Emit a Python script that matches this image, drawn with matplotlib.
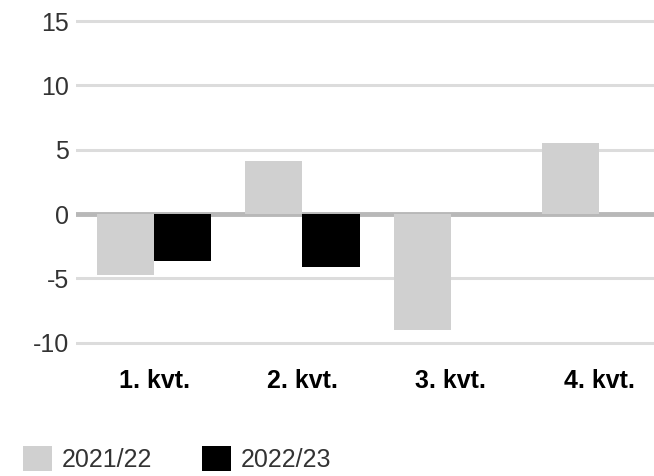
import numpy as np
import matplotlib
matplotlib.use("Agg")
import matplotlib.pyplot as plt
from matplotlib.patches import Patch

plt.rcParams['font.family'] = ['Liberation Sans', 'DejaVu Sans']

quarters = ['1. kvt.', '2. kvt.', '3. kvt.', '4. kvt.']
series_names = ['2021/22', '2022/23']
values_2122 = [-4.75, 4.1, -9.0, 5.5]
values_2223 = [-3.65, -4.1, np.nan, np.nan]
yticks = [-10, -5, 0, 5, 10, 15]

gray = '#d0d0d0'
black = '#000000'

fig = plt.figure(figsize=(6.54, 4.76), dpi=100)
ax = fig.add_axes([76 / 654, 1 - 355.5 / 476, 1 - 76 / 654, 355.5 / 476 - 1.8 / 476])

x = np.arange(len(quarters))
w = 0.385

# grid lines first, bars on top
for t in yticks:
    if t == 0:
        continue
    ax.axhline(t, color='#dcdcdc', lw=2.2, zorder=0)
ax.axhline(0, color='#b8b8b8', lw=3.5, zorder=1)

ax.bar(x - w / 2, values_2122, width=w, color=gray, zorder=2)
ax.bar(x + w / 2, values_2223, width=w, color=black, zorder=2)

ax.set_xlim(-0.526, 3.37)
ax.set_ylim(-11, 16.5)
ax.set_yticks(yticks)
ax.set_yticklabels([str(t) for t in yticks])
ax.set_xticks(x)
ax.set_xticklabels(quarters, fontweight='bold')

ax.tick_params(axis='y', length=0, pad=5, labelsize=18, labelcolor='#333333')
ax.tick_params(axis='x', length=0, pad=10, labelsize=18, labelcolor='#000000')
for s in ax.spines.values():
    s.set_visible(False)

handles = [Patch(facecolor=gray, edgecolor='none'), Patch(facecolor=black, edgecolor='none')]
leg = fig.legend(handles, series_names, loc='lower left', bbox_to_anchor=(0.02, -0.012),
                 ncol=2, frameon=False, fontsize=18, handlelength=1.15, handleheight=1.15,
                 handletextpad=0.4, columnspacing=2.0, borderaxespad=0)
for t in leg.get_texts():
    t.set_color('#333333')

fig.savefig('out.png', dpi=100)
